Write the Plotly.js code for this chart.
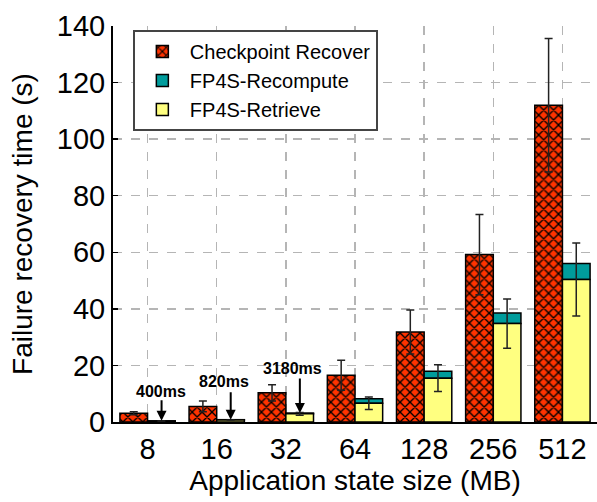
<!DOCTYPE html>
<html>
<head>
<meta charset="utf-8">
<script src="https://cdn.plot.ly/plotly-3.0.1.min.js"></script>
<style>html,body{margin:0;padding:0;background:#fff;}#chart{width:597px;height:502px;}</style>
</head>
<body>
<div id="chart"></div>
<script>
const categories = ['8', '16', '32', '64', '128', '256', '512'];
const checkpointRecover = [3.1, 5.5, 10.3, 16.5, 31.8, 59.2, 112.0];
const checkpointErr = [0.5, 1.9, 2.9, 5.3, 7.8, 14.2, 23.6];
const fp4sRetrieve = [0.35, 0.75, 2.9, 6.6, 15.5, 34.8, 50.4];
const fp4sRetrieveErr = [0, 0, 0.5, 2.2, 4.75, 8.7, 12.9];
const fp4sRecompute = [0.05, 0.07, 0.28, 1.6, 2.4, 3.7, 5.6];
const annotationLabels = ['400ms', '820ms', '3180ms'];
const annotationCats = ['8', '16', '32'];
const annotationValues = [0.4, 0.82, 3.18];

const font = 'Liberation Sans, Arial, sans-serif';
const lineBlack = {color: '#000', width: 1.5};

const traces = [
  {
    type: 'bar', name: 'Checkpoint Recover', x: categories, y: checkpointRecover,
    offsetgroup: 'a',
    marker: {color: '#ff3300', line: lineBlack,
      pattern: {shape: 'x', fgcolor: '#000', bgcolor: '#ff3300', size: 7, solidity: 0.35}},
    error_y: {type: 'data', array: checkpointErr, visible: true, color: '#222', thickness: 1.5, width: 4}
  },
  {
    type: 'bar', name: 'FP4S-Recompute', x: categories, y: fp4sRecompute, base: fp4sRetrieve,
    offsetgroup: 'b',
    marker: {color: '#009c9c', line: lineBlack}
  },
  {
    type: 'bar', name: 'FP4S-Retrieve', x: categories, y: fp4sRetrieve,
    offsetgroup: 'b',
    marker: {color: '#ffff80', line: lineBlack},
    error_y: {type: 'data', array: fp4sRetrieveErr, visible: true, color: '#222', thickness: 1.5, width: 4}
  }
];

// label placement (pixels relative to arrow tip)
const textDx = [-1, -7, -7];
const textDy = [29, 38, 45];
const arrowLen = [22, 29, 36];
const annotations = [];
annotationLabels.forEach((t, i) => {
  const xi = categories.indexOf(annotationCats[i]);
  annotations.push({
    x: xi, y: annotationValues[i], xref: 'x', yref: 'y', xshift: 14,
    text: '', showarrow: true, arrowhead: 2, arrowsize: 1, arrowwidth: 2, arrowcolor: '#000',
    ax: 0, ay: -arrowLen[i], standoff: 0
  });
  annotations.push({
    x: xi, y: annotationValues[i], xref: 'x', yref: 'y',
    xshift: 14 + textDx[i], yshift: textDy[i],
    text: '<b>' + t + '</b>', showarrow: false,
    font: {family: font, size: 16, color: '#000'}
  });
});

const layout = {
  width: 597, height: 502,
  margin: {l: 113, r: 0, t: 26, b: 80},
  paper_bgcolor: '#fff', plot_bgcolor: '#fff',
  barmode: 'group', bargap: 0.2, bargroupgap: 0,
  font: {family: font, color: '#000'},
  showlegend: true,
  legend: {
    x: 0.041, y: 0.99, xanchor: 'left', yanchor: 'top',
    bgcolor: '#fff', bordercolor: '#444', borderwidth: 2,
    font: {family: font, size: 20, color: '#000'},
    itemwidth: 45, traceorder: 'normal'
  },
  xaxis: {
    type: 'category', range: [-0.5, categories.length - 0.5], tickangle: 0,
    showline: true, linecolor: '#000', linewidth: 2,
    showgrid: true, gridcolor: '#b5b5b5', gridwidth: 1.5, griddash: 'dash',
    ticks: '', tickfont: {family: font, size: 29, color: '#000'},
    title: {text: 'Application state size (MB)', font: {family: font, size: 28, color: '#000'}, standoff: 4},
    zeroline: false
  },
  yaxis: {
    range: [0, 140], dtick: 20,
    showline: true, linecolor: '#000', linewidth: 2,
    ticks: 'inside', ticklen: 5, tickwidth: 1.5, tickcolor: '#000',
    showgrid: true, gridcolor: '#b5b5b5', gridwidth: 1.5, griddash: 'dash',
    tickfont: {family: font, size: 29, color: '#000'},
    title: {text: 'Failure recovery time (s)', font: {family: font, size: 28, color: '#000'}, standoff: 16},
    zeroline: false
  },
  annotations: annotations
};

Plotly.newPlot('chart', traces, layout, {displayModeBar: false, staticPlot: true});
</script>
</body>
</html>
